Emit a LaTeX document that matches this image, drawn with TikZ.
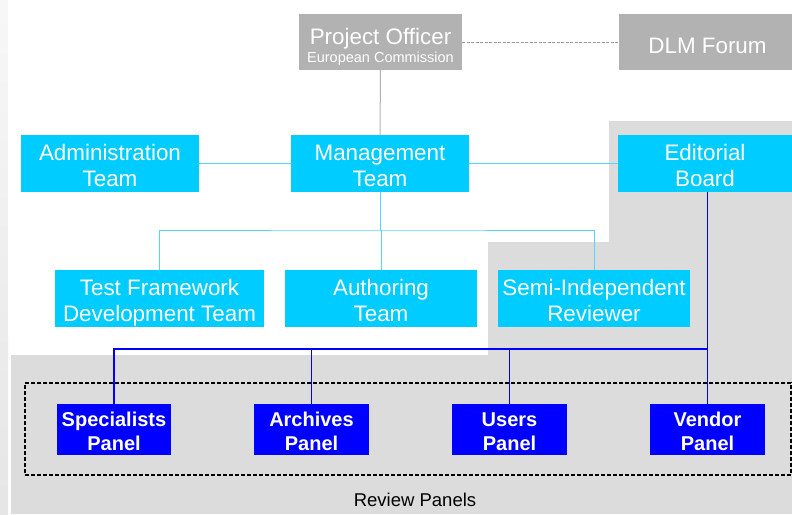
\documentclass[tikz,border=0pt]{standalone}
\usepackage{fontspec}
\setmainfont{Liberation Sans}
\usepackage{tikz}
\usetikzlibrary{positioning}
\usepackage{xcolor}
\definecolor{boxcyan}{HTML}{00CCFF}
\definecolor{linecyan}{HTML}{55D4FF}
\definecolor{boxgrey}{HTML}{B2B2B2}
\definecolor{dashgrey}{HTML}{9A9A9A}
\definecolor{backgrey}{HTML}{DCDCDC}
\newcommand{\bigfs}{\fontsize{22.4}{26.7}\selectfont}
\newcommand{\smallfs}{\fontsize{14.5}{17}\selectfont}
\newcommand{\panelfs}{\fontsize{20}{23.3}\selectfont\bfseries}

\begin{document}
\begin{tikzpicture}[x=1pt, y=-1pt,
	textspan/.style 2 args={execute at begin node={\rule{0pt}{#1}}, execute at end node={\rule[-#2]{0pt}{0pt}}},
	greybox/.style={fill=boxgrey, text=white, minimum height=56pt, inner sep=0pt, align=center, font=\bigfs},
	cyanbox/.style={fill=boxcyan, text=white, minimum height=57pt, inner sep=0pt, align=center, font=\bigfs, textspan={51.7pt}{5.3pt}},
	panelbox/.style={fill=blue, text=white, minimum height=51pt, minimum width=115pt, inner sep=0pt, align=center, font=\panelfs, textspan={46pt}{5pt}},
	cyanline/.style={linecyan, line width=1pt},
	panelline/.style={blue, line width=1.2pt}]
	\useasboundingbox (0,0) rectangle (792,514);
	\shade [top color=gray!6, bottom color=gray!20] (0,0) rectangle (8,514);
	\fill [backgrey] (11,355) -- (488,355) -- (488,242) -- (609,242) -- (609,121) -- (792,121) -- (792,514) -- (11,514) -- cycle;
	\node [greybox, minimum width=163pt, textspan={48.7pt}{7.3pt}] (po) at (380.5,42) {Project Officer\\[-8pt]{\smallfs European Commission}};
	\node [greybox, minimum width=177pt, textspan={39.3pt}{16.7pt}] (dlm) at (707.5,42) {DLM Forum};
	\node [cyanbox, minimum width=178pt] (adm) at (110,163.5) {Administration\\Team};
	\node [cyanbox, minimum width=178pt] (mgmt) at (380,163.5) {Management\\Team};
	\node [cyanbox, minimum width=174pt] (edit) at (705,163.5) {Editorial\\Board};
	\node [cyanbox, minimum width=209pt] (test) at (159.5,298.5) {Test Framework\\Development Team};
	\node [cyanbox, minimum width=192pt] (auth) at (381,298.5) {Authoring\\Team};
	\node [cyanbox, minimum width=192pt] (semi) at (594,298.5) {Semi-Independent\\Reviewer};
	\node [draw=black, line width=1.2pt, dash pattern=on 4pt off 2pt, minimum width=766pt, minimum height=92pt] (review) at (408,429) {};
	\node [panelbox, minimum width=114pt] (spec) at (114,429.5) {Specialists\\Panel};
	\node [panelbox] (arch) at (311.5,429.5) {Archives\\Panel};
	\node [panelbox] (users) at (509.5,429.5) {Users\\Panel};
	\node [panelbox] (vend) at (707.5,429.5) {Vendor\\Panel};
	\node [font=\fontsize{18.5}{22}\selectfont] (revlabel) at (415,499.5) {Review Panels};
	\coordinate (bus) at (380,230);
	\coordinate (pbus) at (707.5,349);
	\draw [dashgrey, line width=1pt, dash pattern=on 3pt off 1.5pt] (po.east) -- (dlm.west);
	\draw [boxgrey, line width=1pt] (po.south) -- (mgmt.north);
	\draw [cyanline] (adm.east) -- (mgmt.west);
	\draw [cyanline] (mgmt.east) -- (edit.west);
	\draw [cyanline] (mgmt.south) -- (bus);
	\draw [cyanline] (test.north) |- (bus) -| (semi.north);
	\draw [cyanline] (auth.north) -- (auth.north |- bus);
	\draw [panelline] (vend.north |- edit.south) -- (vend.north);
	\draw [panelline] (spec.north) |- (pbus);
	\draw [panelline] (arch.north) -- (arch.north |- pbus);
	\draw [panelline] (users.north) -- (users.north |- pbus);
\end{tikzpicture}
\end{document}
